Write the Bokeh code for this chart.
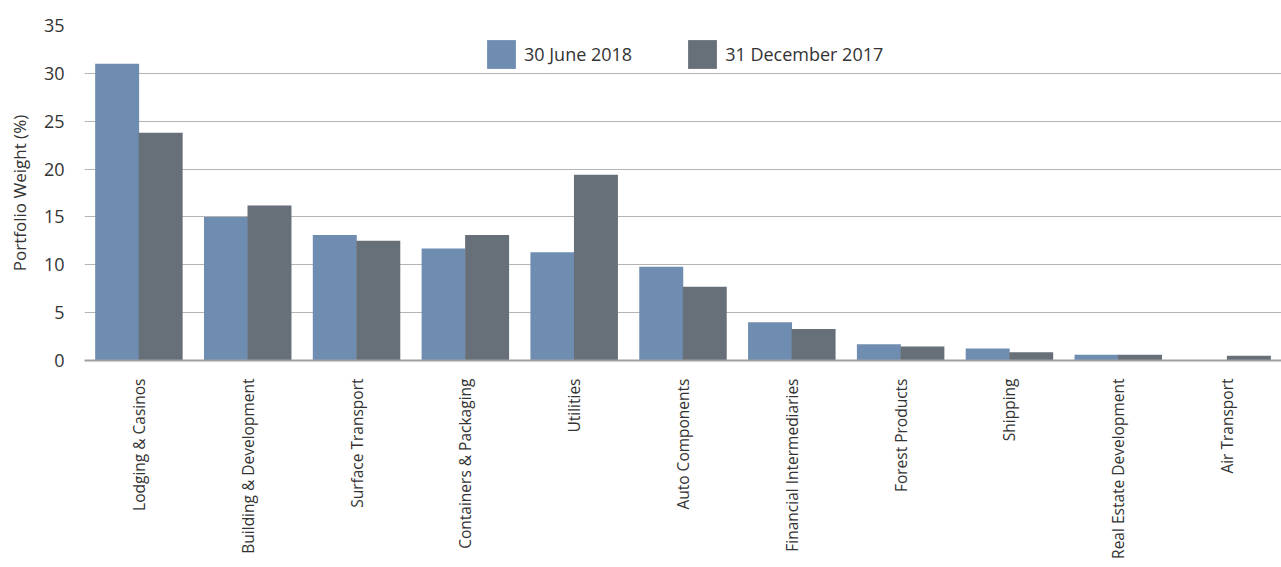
import math
from bokeh.plotting import figure
from bokeh.models import FactorRange, Range1d, Legend, LegendItem, ColumnDataSource
from bokeh.transform import dodge
from bokeh.embed import file_html
from bokeh.resources import INLINE

categories = ["Lodging & Casinos", "Building & Development", "Surface Transport",
              "Containers & Packaging", "Utilities", "Auto Components",
              "Financial Intermediaries", "Forest Products", "Shipping",
              "Real Estate Development", "Air Transport"]
jun_2018 = [31.0, 15.0, 13.1, 11.7, 11.3, 9.8, 4.0, 1.7, 1.25, 0.6, 0.05]
dec_2017 = [23.8, 16.2, 12.5, 13.1, 19.4, 7.7, 3.3, 1.45, 0.85, 0.6, 0.5]
series_labels = ["30 June 2018", "31 December 2017"]
y_ticks = [0, 5, 10, 15, 20, 25, 30, 35]

BLUE = "#6f8db1"
GRAY = "#676f78"
FONT = "Open Sans"
TXT = "#333333"

src = ColumnDataSource(dict(cat=categories, a=jun_2018, b=dec_2017))

p = figure(x_range=FactorRange(*categories, range_padding=0), y_range=Range1d(0, 35),
           frame_width=1197, frame_height=335, output_backend="svg", toolbar_location=None,
           min_border_left=84, min_border_right=0, min_border_top=25, min_border_bottom=0)
p.outline_line_color = None

r1 = p.vbar(x=dodge("cat", -0.2, range=p.x_range), top="a", width=0.404, source=src,
            fill_color=BLUE, line_color=None)
r2 = p.vbar(x=dodge("cat", 0.2, range=p.x_range), top="b", width=0.404, source=src,
            fill_color=GRAY, line_color=None)

p.xgrid.grid_line_color = None
p.ygrid.grid_line_color = "#b4b4b4"
p.ygrid.grid_line_width = 1
p.yaxis.ticker = y_ticks
p.yaxis.axis_line_color = None
p.yaxis.major_tick_line_color = None
p.yaxis.minor_tick_line_color = None
p.yaxis.major_label_text_font = FONT
p.yaxis.major_label_text_font_size = "18px"
p.yaxis.major_label_text_color = TXT
p.yaxis.major_label_standoff = 14
p.yaxis.axis_label = "Portfolio Weight (%)"
p.yaxis.axis_label_text_font = FONT
p.yaxis.axis_label_text_font_size = "17px"
p.yaxis.axis_label_text_font_style = "normal"
p.yaxis.axis_label_text_color = TXT
p.yaxis.axis_label_standoff = 10

p.xaxis.axis_line_color = "#a0a0a0"
p.xaxis.axis_line_width = 2
p.xaxis.major_tick_line_color = None
p.xaxis.minor_tick_line_color = None
p.xaxis.major_label_orientation = math.pi / 2
p.xaxis.major_label_text_font = FONT
p.xaxis.major_label_text_font_size = "15.5px"
p.xaxis.major_label_text_color = TXT
p.xaxis.major_label_standoff = 12

legend = Legend(items=[LegendItem(label=series_labels[0], renderers=[r1]),
                       LegendItem(label=series_labels[1], renderers=[r2])],
                orientation="horizontal", location=(399, 288),
                glyph_width=36, glyph_height=36, label_standoff=5, spacing=52,
                padding=0, margin=0, border_line_color=None,
                background_fill_alpha=0,
                label_text_font=FONT, label_text_font_size="18px", label_text_color=TXT)
p.add_layout(legend, "center")

open("out.html", "w").write(file_html(p, INLINE))
